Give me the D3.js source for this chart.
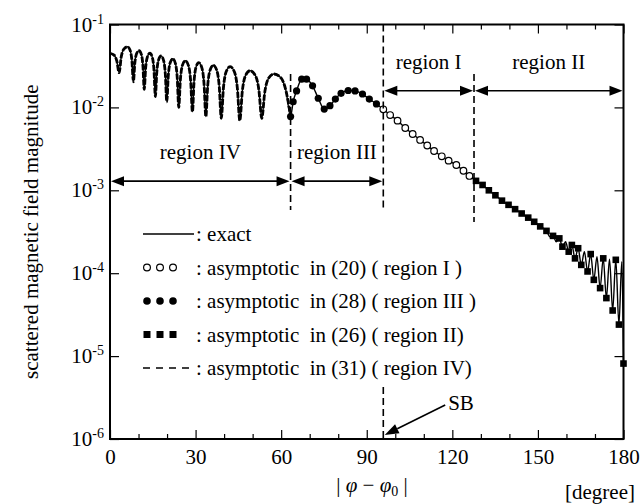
<!DOCTYPE html>
<html><head><meta charset="utf-8">
<script src="https://cdn.jsdelivr.net/npm/d3@7"></script>
<style>
html,body{margin:0;padding:0;background:#fff;}
text{font-family:"Liberation Serif","Times New Roman",serif;fill:#000;white-space:pre;}
</style></head><body>
<svg id="chart" width="643" height="504"></svg>
<script>
// ---------- data ----------
const xMajorTicks = [0, 30, 60, 90, 120, 150, 180];
const xMinorTicks = [10, 20, 40, 50, 70, 80, 100, 110, 130, 140, 160, 170];
const yTicks = [1e-1, 1e-2, 1e-3, 1e-4, 1e-5, 1e-6];
const yTickExponents = ["-1", "-2", "-3", "-4", "-5", "-6"];

// exact solution in region IV (also asymptotic (31), coincident)
const exactRegionIV = [
 [0,4.50e-2],[1.44,4.27e-2],[2.4,3.62e-2],[3.2,2.62e-2],[3.93,4.05e-2],[4.8,5.02e-2],[6.1,5.40e-2],
 [7.05,4.90e-2],[7.68,3.66e-2],[8.2,2.04e-2],[8.7,3.42e-2],[9.3,4.44e-2],[10.2,4.83e-2],[11.01,4.34e-2],
 [11.55,3.15e-2],[12.0,1.65e-2],[12.5,3.01e-2],[13.1,4.06e-2],[14.0,4.50e-2],[14.86,3.99e-2],[15.43,2.77e-2],
 [15.9,1.35e-2],[16.4,2.65e-2],[17.0,3.72e-2],[17.9,4.17e-2],[18.8,3.67e-2],[19.4,2.51e-2],[19.9,1.17e-2],
 [20.43,2.40e-2],[21.06,3.43e-2],[22.0,3.86e-2],[22.95,3.37e-2],[23.58,2.25e-2],[24.1,1.00e-2],[24.68,2.18e-2],
 [25.37,3.21e-2],[26.4,3.66e-2],[27.53,3.17e-2],[28.28,2.07e-2],[28.9,8.87e-3],[29.45,2.01e-2],[30.1,3.02e-2],
 [31.1,3.46e-2],[32.23,2.98e-2],[32.98,1.90e-2],[33.6,7.73e-3],[34.25,1.82e-2],[35.03,2.79e-2],[36.2,3.22e-2],
 [37.46,2.78e-2],[38.3,1.79e-2],[39.0,7.40e-3],[39.78,1.75e-2],[40.71,2.69e-2],[42.1,3.10e-2],[43.63,2.67e-2],
 [44.65,1.70e-2],[45.5,6.92e-3],[46.4,1.59e-2],[47.48,2.42e-2],[49.1,2.77e-2],[50.95,2.43e-2],[52.18,1.63e-2],
 [53.2,7.40e-3],[54.28,1.55e-2],[55.57,2.24e-2],[57.5,2.53e-2],[60.02,2.25e-2],[61.7,1.58e-2],[63.3,7.76e-3]
];
// asymptotic (28), region III  (filled circles)
const markersRegionIII = [
 [63.3,7.76e-3],[64.2,1.17e-2],[65.4,1.58e-2],[67.2,2.19e-2],[68.9,2.19e-2],[71.0,1.82e-2],[73.0,1.29e-2],
 [75.1,9.55e-3],[77.1,1.05e-2],[79.0,1.26e-2],[81.0,1.48e-2],[83.5,1.60e-2],[85.9,1.58e-2],[88.5,1.45e-2],
 [90.9,1.26e-2],[93.4,1.10e-2]
];
// asymptotic (20), region I (open circles)
const markersRegionI = [
 [95.8,9.48e-3],[98.2,8.09e-3],[100.8,6.92e-3],[103.5,5.64e-3],[106.1,4.78e-3],[108.7,4.05e-3],[111.2,3.47e-3],
 [113.6,2.98e-3],[116.3,2.57e-3],[118.7,2.28e-3],[121.4,2.02e-3],[123.9,1.72e-3],[126.0,1.49e-3]
];
// asymptotic (26), region II (filled squares)
const markersRegionII = [
 [128.3,1.30e-3],[130.6,1.16e-3],[132.8,1.00e-3],[135.1,8.71e-4],[137.4,7.50e-4],[139.7,6.68e-4],[142.0,5.92e-4],
 [144.3,5.25e-4],[146.6,4.68e-4],[148.7,4.17e-4],[150.8,3.67e-4],[153.0,3.24e-4],[155.3,2.82e-4],[157.5,2.63e-4],
 [158.6,2.09e-4],[160.8,1.82e-4],[161.9,2.19e-4],[163.0,1.51e-4],[164.1,2.00e-4],[165.2,1.26e-4],[167.4,1.05e-4],
 [168.5,1.70e-4],[169.6,8.32e-5],[171.8,6.61e-5],[172.9,1.51e-4],[174.0,5.01e-5],[176.2,3.55e-5],[177.3,1.45e-4],
 [178.4,2.40e-5],[180.0,8.13e-6]
];
// exact solution oscillation near backscatter
const exactOscillation = [
 [153.0,3.24e-4],[154.2,2.75e-4],[155.3,2.82e-4],[156.4,2.40e-4],[157.5,2.63e-4],[158.6,2.09e-4],[159.7,2.40e-4],
 [160.8,1.82e-4],[161.9,2.19e-4],[163.0,1.51e-4],[164.1,2.00e-4],[165.2,1.26e-4],[166.3,1.82e-4],[167.4,1.05e-4],
 [168.5,1.70e-4],[169.6,8.32e-5],[170.7,1.58e-4],[171.8,6.61e-5],[172.9,1.51e-4],[174.0,5.01e-5],[175.1,1.48e-4],
 [176.2,3.55e-5],[177.3,1.45e-4],[178.4,2.40e-5],[179.4,1.38e-4],[180.0,8.13e-6]
];
// region boundaries [deg] and region annotations
const boundaryDeg = [63.3, 95.8, 127.6];
const regionNames = ["region IV", "region III", "region I", "region II"];
const regionSpans = [[0, 63.3], [63.3, 95.8], [95.8, 127.6], [127.6, 180]];
const regionArrowLevel = [1.29e-3, 1.29e-3, 1.59e-2, 1.59e-2];
const legendLabels = [": exact", ": asymptotic  in (20) ( region I )", ": asymptotic  in (28) ( region III )",
  ": asymptotic  in (26) ( region II)", ": asymptotic  in (31) ( region IV)"];

// ---------- layout ----------
const svg = d3.select("#chart");
svg.append("rect").attr("width", 643).attr("height", 504).attr("fill", "#fff");
const L = 110, R = 623.5, T = 24.5, B = 439;
const x = d3.scaleLinear().domain([0, 180]).range([L, R]);
const y = d3.scaleLog().domain([1e-6, 1e-1]).range([B, T]);
const FS = 21;

// ---------- curves ----------
const exactCurve = [...exactRegionIV, ...markersRegionIII, ...markersRegionI,
  ...markersRegionII.filter(d => d[0] < 152), ...exactOscillation]
  .sort((a, b) => a[0] - b[0])
  .filter((d, i, arr) => i === 0 || d[0] !== arr[i - 1][0]);

const line = d3.line().x(d => x(d[0])).y(d => y(d[1])).curve(d3.curveMonotoneX);
svg.append("path").datum(exactCurve).attr("d", line)
  .attr("fill", "none").attr("stroke", "#000").attr("stroke-width", 1.4);
svg.append("path").datum(exactRegionIV).attr("d", line)
  .attr("fill", "none").attr("stroke", "#000").attr("stroke-width", 2.8).attr("stroke-dasharray", "6,1.5");

// markers
svg.append("g").selectAll("circle").data(markersRegionIII).join("circle")
  .attr("cx", d => x(d[0])).attr("cy", d => y(d[1])).attr("r", 3.6).attr("fill", "#000");
svg.append("g").selectAll("circle").data(markersRegionI).join("circle")
  .attr("cx", d => x(d[0])).attr("cy", d => y(d[1])).attr("r", 3.3)
  .attr("fill", "#fff").attr("stroke", "#000").attr("stroke-width", 1.2);
svg.append("g").selectAll("rect").data(markersRegionII).join("rect")
  .attr("x", d => x(d[0]) - 3.3).attr("y", d => y(d[1]) - 3.3).attr("width", 6.6).attr("height", 6.6).attr("fill", "#000");

// ---------- boundary dashed lines ----------
const dash = (deg, v1, v2) => svg.append("line").attr("x1", x(deg)).attr("x2", x(deg))
  .attr("y1", y(v1)).attr("y2", y(v2)).attr("stroke", "#000").attr("stroke-width", 1.6).attr("stroke-dasharray", "7,4");
dash(boundaryDeg[0], 2.53e-2, 5.8e-4);
dash(boundaryDeg[1], 1e-1, 5.8e-4);
dash(boundaryDeg[1], 4.25e-6, 1e-6);
dash(boundaryDeg[2], 2.53e-2, 4.15e-4);

// ---------- region arrows ----------
function head(tx, ty, dir) {
  svg.append("path").attr("d", `M${tx},${ty}L${tx + dir * 13},${ty - 5}L${tx + dir * 13},${ty + 5}Z`).attr("fill", "#000");
}
regionSpans.forEach((s, i) => {
  const yy = y(regionArrowLevel[i]);
  const x1 = x(s[0]) + 1, x2 = x(s[1]) - 1;
  svg.append("line").attr("x1", x1 + 6).attr("x2", x2 - 6).attr("y1", yy).attr("y2", yy)
    .attr("stroke", "#000").attr("stroke-width", 1.6);
  head(x1, yy, 1); head(x2, yy, -1);
  svg.append("text").attr("x", (x(s[0]) + x(s[1])) / 2).attr("y", yy - 22)
    .attr("text-anchor", "middle").attr("fill", "#000").style("font-size", FS + "px").text(regionNames[i]);
});

// ---------- axes ----------
function styleAxis(g) {
  g.select(".domain").remove();
  g.selectAll("line").attr("stroke-width", 1.2).attr("stroke", "#000");
  g.selectAll("text").style("font-size", FS + "px").attr("fill", "#000");
  g.attr("font-family", null).attr("font-size", null);
}
svg.append("g").attr("transform", `translate(0,${B})`)
  .call(d3.axisBottom(x).tickValues(xMajorTicks).tickSize(-9).tickPadding(10).tickFormat(d3.format("d"))).call(styleAxis);
svg.append("g").attr("transform", `translate(0,${B})`)
  .call(d3.axisBottom(x).tickValues(xMinorTicks).tickSize(-5).tickFormat("")).call(styleAxis);
svg.append("g").attr("transform", `translate(0,${T})`)
  .call(d3.axisTop(x).tickValues(xMajorTicks).tickSize(-9).tickFormat("")).call(styleAxis);
svg.append("g").attr("transform", `translate(0,${T})`)
  .call(d3.axisTop(x).tickValues(xMinorTicks).tickSize(-5).tickFormat("")).call(styleAxis);
svg.append("g").attr("transform", `translate(${L},0)`)
  .call(d3.axisLeft(y).tickValues(yTicks).tickSize(-9).tickFormat("")).call(styleAxis);
svg.append("g").attr("transform", `translate(${R},0)`)
  .call(d3.axisRight(y).tickValues(yTicks).tickSize(-9).tickFormat("")).call(styleAxis);

// y tick labels 10^n
yTicks.forEach((t, i) => {
  const tx = svg.append("text").attr("x", L - 6).attr("y", y(t) + 7).attr("text-anchor", "end")
    .attr("fill", "#000").style("font-size", FS + "px");
  tx.append("tspan").text("10");
  tx.append("tspan").attr("dy", -8).style("font-size", "14px").text(yTickExponents[i]);
});

// frame
svg.append("rect").attr("x", L).attr("y", T).attr("width", R - L).attr("height", B - T)
  .attr("fill", "none").attr("stroke", "#000").attr("stroke-width", 2);

// axis titles
svg.append("text").attr("transform", `translate(31,${(T + B) / 2}) rotate(-90)`)
  .attr("text-anchor", "middle").attr("dominant-baseline", "central").attr("fill", "#000").style("font-size", FS + "px")
  .text("scattered magnetic field magnitude");
const xl = svg.append("text").attr("x", 372).attr("y", 492).attr("text-anchor", "middle")
  .attr("fill", "#000").style("fill", "#000").style("font-size", FS + "px");
xl.append("tspan").attr("fill", "#000").text("| ");
xl.append("tspan").attr("fill", "#000").style("font-style", "italic").text("φ");
xl.append("tspan").attr("fill", "#000").text(" − ");
xl.append("tspan").attr("fill", "#000").style("font-style", "italic").text("φ");
xl.append("tspan").attr("fill", "#000").attr("dy", 4).style("font-size", "14px").text("0");
xl.append("tspan").attr("fill", "#000").attr("dy", -4).text(" |");
svg.append("text").attr("x", 600).attr("y", 499).attr("text-anchor", "middle").attr("fill", "#000")
  .style("font-size", FS + "px").text("[degree]");

// ---------- legend ----------
const legY = [234, 267.5, 301, 334.5, 368];
const symX = [147, 160, 173];
legendLabels.forEach((lab, i) => {
  const cy = legY[i];
  if (i === 0) {
    svg.append("line").attr("x1", 143).attr("x2", 194).attr("y1", cy).attr("y2", cy).attr("stroke", "#000").attr("stroke-width", 1.4);
  } else if (i === 1) {
    symX.forEach(sx => svg.append("circle").attr("cx", sx).attr("cy", cy).attr("r", 3.4).attr("fill", "#fff").attr("stroke", "#000").attr("stroke-width", 1.2));
  } else if (i === 2) {
    symX.forEach(sx => svg.append("circle").attr("cx", sx).attr("cy", cy).attr("r", 3.8).attr("fill", "#000"));
  } else if (i === 3) {
    symX.forEach(sx => svg.append("rect").attr("x", sx - 3.5).attr("y", cy - 3.5).attr("width", 7).attr("height", 7).attr("fill", "#000"));
  } else {
    svg.append("line").attr("x1", 143).attr("x2", 194).attr("y1", cy).attr("y2", cy).attr("stroke", "#000").attr("stroke-width", 1.4).attr("stroke-dasharray", "7,6");
  }
  svg.append("text").attr("x", 196).attr("y", cy + 7).attr("fill", "#000").style("font-size", FS + "px").text(lab);
});

// ---------- SB annotation ----------
const sbTip = [96.3, 1.12e-6], sbStart = [117.5, 2.57e-6];
const tX = x(sbTip[0]), tY = y(sbTip[1]), sX = x(sbStart[0]), sY = y(sbStart[1]);
const ang = Math.atan2(sY - tY, sX - tX);
const hl = 14, hw = 5;
const bx = tX + hl * Math.cos(ang), by = tY + hl * Math.sin(ang);
svg.append("line").attr("x1", sX).attr("y1", sY).attr("x2", bx).attr("y2", by).attr("stroke", "#000").attr("stroke-width", 1.6);
svg.append("path").attr("d", `M${tX},${tY}L${bx - hw * Math.sin(ang)},${by + hw * Math.cos(ang)}L${bx + hw * Math.sin(ang)},${by - hw * Math.cos(ang)}Z`).attr("fill", "#000");
svg.append("text").attr("x", sX + 3).attr("y", sY + 5).attr("fill", "#000").style("font-size", FS + "px").text("SB");
</script>
</body></html>
